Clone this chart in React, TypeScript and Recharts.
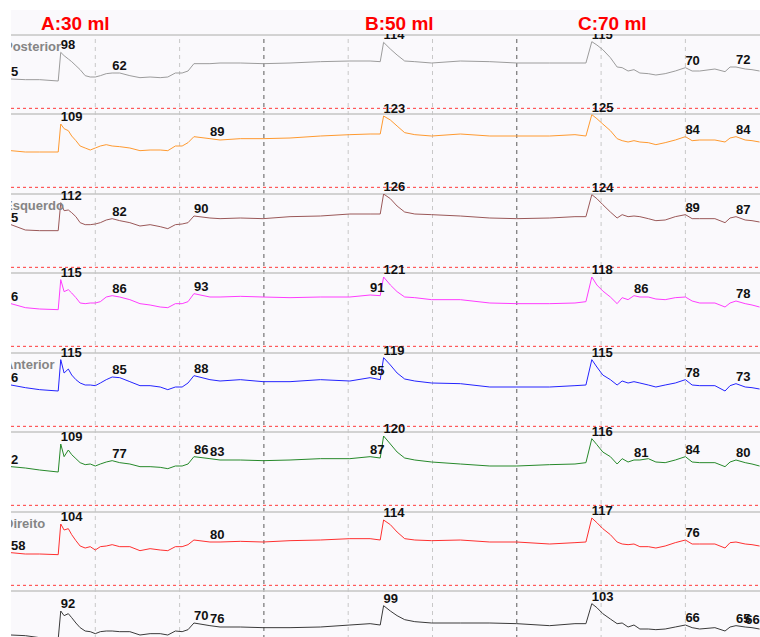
import { LineChart, Line, XAxis, YAxis, ReferenceLine, LabelList } from "recharts";

// time in minutes (one grid line per minute)
const TIME = [
  0, 0.17, 0.34, 0.56, 0.59, 0.63, 0.68, 0.72, 0.77, 0.82,
  0.88, 0.94, 1.0, 1.06, 1.13, 1.2, 1.29, 1.41, 1.53, 1.65,
  1.77, 1.86, 1.95, 2.03, 2.1, 2.17, 2.36, 2.48, 2.72, 2.99,
  3.31, 3.67, 4.02, 4.26, 4.38, 4.42, 4.5, 4.58, 4.67, 4.79,
  4.99, 5.33, 5.68, 6.0, 6.39, 6.69, 6.82, 6.89, 6.95, 7.02,
  7.11, 7.19, 7.25, 7.32, 7.39, 7.46, 7.56, 7.65, 7.76, 7.88,
  8.0, 8.08, 8.17, 8.35, 8.47, 8.53, 8.6, 8.71, 8.79, 8.88,
];

const POSTERIOR = [
  57, 56, 56, 54, 97, 92, 87, 83, 77, 71,
  62, 60, 60, 62, 65, 66, 66, 62, 59, 60,
  59, 60, 66, 66, 69, 80, 80, 81, 81, 80,
  81, 83, 84, 84, 83, 112, 102, 93, 84, 83,
  81, 84, 83, 81, 81, 81, 81, 113, 108, 101,
  89, 75, 74, 69, 71, 66, 65, 63, 65, 69,
  74, 69, 69, 72, 68, 75, 75, 72, 71, 69,
];
const CH2 = [
  70, 68, 68, 68, 110, 103, 100, 92, 85, 77,
  74, 71, 74, 77, 79, 77, 76, 74, 70, 71,
  71, 70, 77, 77, 82, 91, 88, 86, 88, 88,
  89, 92, 94, 95, 95, 122, 116, 107, 97, 94,
  92, 95, 92, 92, 92, 94, 92, 124, 118, 110,
  100, 88, 85, 83, 85, 83, 82, 79, 82, 86,
  91, 85, 86, 86, 83, 89, 91, 86, 85, 83,
];
const ESQUERDO = [
  77, 69, 68, 68, 110, 98, 99, 95, 89, 80,
  77, 77, 78, 80, 84, 86, 83, 80, 75, 77,
  74, 71, 77, 78, 80, 90, 87, 86, 87, 86,
  89, 90, 93, 93, 93, 123, 116, 105, 96, 93,
  92, 90, 87, 86, 87, 89, 89, 122, 116, 107,
  96, 87, 92, 89, 90, 89, 86, 83, 84, 89,
  92, 86, 86, 86, 80, 87, 89, 84, 83, 81,
];
const CH4 = [
  77, 71, 69, 68, 113, 95, 98, 93, 86, 78,
  77, 78, 78, 80, 87, 89, 87, 83, 77, 75,
  72, 71, 77, 77, 80, 92, 87, 87, 88, 87,
  86, 87, 87, 90, 89, 117, 105, 95, 87, 86,
  83, 83, 78, 77, 77, 78, 80, 117, 105, 96,
  87, 77, 86, 83, 89, 87, 87, 84, 83, 86,
  87, 81, 78, 78, 72, 78, 81, 77, 75, 72,
];
const ANTERIOR = [
  75, 71, 68, 66, 113, 93, 99, 90, 83, 78,
  75, 75, 74, 78, 83, 87, 86, 80, 74, 74,
  72, 68, 72, 72, 78, 89, 83, 81, 83, 80,
  80, 83, 81, 86, 83, 116, 105, 93, 84, 81,
  78, 77, 72, 72, 72, 74, 75, 113, 102, 90,
  83, 75, 81, 78, 80, 78, 75, 72, 75, 78,
  83, 75, 74, 74, 66, 74, 77, 72, 71, 69,
];
const CH6 = [
  72, 70, 67, 64, 106, 87, 97, 90, 84, 78,
  75, 76, 73, 76, 79, 81, 78, 76, 72, 72,
  71, 69, 73, 73, 76, 87, 84, 82, 82, 81,
  82, 84, 84, 87, 85, 118, 106, 94, 85, 82,
  79, 76, 73, 73, 75, 76, 78, 114, 105, 94,
  87, 76, 84, 79, 82, 82, 84, 79, 78, 82,
  87, 79, 78, 78, 72, 79, 82, 78, 76, 73,
];
const DIREITO = [
  61, 59, 59, 58, 104, 95, 97, 88, 79, 71,
  68, 70, 65, 70, 71, 73, 70, 70, 64, 67,
  65, 64, 70, 70, 73, 80, 77, 77, 78, 77,
  79, 80, 82, 82, 80, 110, 103, 92, 82, 80,
  79, 80, 77, 77, 74, 76, 77, 113, 106, 97,
  88, 77, 74, 73, 74, 70, 70, 68, 71, 76,
  80, 74, 74, 74, 68, 76, 77, 74, 73, 71,
];
const CH8 = [
  54, 53, 50, 48, 90, 83, 86, 80, 72, 65,
  60, 59, 56, 59, 60, 60, 59, 59, 54, 56,
  56, 54, 60, 59, 62, 72, 68, 66, 66, 65,
  65, 66, 69, 71, 69, 98, 90, 83, 77, 74,
  72, 72, 72, 71, 68, 71, 71, 101, 95, 86,
  78, 71, 72, 66, 69, 63, 63, 62, 63, 66,
  69, 65, 63, 65, 60, 66, 68, 66, 65, 63,
];

// [sample index, printed value]
const POSTERIOR_MARKS: [number, string][] = [[0, "5"], [4, "98"], [15, "62"], [35, "114"], [47, "115"], [60, "70"], [66, "72"]];
const CH2_MARKS: [number, string][] = [[4, "109"], [26, "89"], [35, "123"], [47, "125"], [60, "84"], [66, "84"]];
const ESQUERDO_MARKS: [number, string][] = [[0, "5"], [4, "112"], [15, "82"], [25, "90"], [35, "126"], [47, "124"], [60, "89"], [66, "87"]];
const CH4_MARKS: [number, string][] = [[0, "6"], [4, "115"], [15, "86"], [25, "93"], [33, "91"], [35, "121"], [47, "118"], [54, "86"], [66, "78"]];
const ANTERIOR_MARKS: [number, string][] = [[0, "6"], [4, "115"], [15, "85"], [25, "88"], [33, "85"], [35, "119"], [47, "115"], [60, "78"], [66, "73"]];
const CH6_MARKS: [number, string][] = [[0, "2"], [4, "109"], [15, "77"], [25, "86"], [26, "83"], [33, "87"], [35, "120"], [47, "116"], [54, "81"], [60, "84"], [66, "80"]];
const DIREITO_MARKS: [number, string][] = [[0, "58"], [4, "104"], [26, "80"], [35, "114"], [47, "117"], [60, "76"]];
const CH8_MARKS: [number, string][] = [[4, "92"], [25, "70"], [26, "76"], [35, "99"], [47, "103"], [60, "66"], [66, "65"], [67, "66"]];

const CEILINGS = [123, 125, 123, 123, 123, 124, 122, 120];
const NAMES = ["Posterior", "", "Esquerdo", "", "Anterior", "", "Direito", ""];
const COLORS = ["#9c9c9c", "#ff9a30", "#9a5858", "#ff3cff", "#2424ff", "#26892a", "#ff3030", "#3a3a3a"];

const EVENTS = ["A:30 ml", "B:50 ml", "C:70 ml"];
const GRID_MINOR = [1, 2, 4, 5, 7, 8];
const GRID_MAJOR = [3, 6];

const FONT = "'Liberation Sans', Arial, sans-serif";
const BG = "#faf9fc";
const W = 760;
const PANEL_Y = 35;
const PANEL_STEP = 79.43;
const PAD = 20;

const SERIES = [POSTERIOR, CH2, ESQUERDO, CH4, ANTERIOR, CH6, DIREITO, CH8];
const MARKS = [POSTERIOR_MARKS, CH2_MARKS, ESQUERDO_MARKS, CH4_MARKS, ANTERIOR_MARKS, CH6_MARKS, DIREITO_MARKS, CH8_MARKS];

function Mark(props: any) {
  const { value } = props;
  if (!value) return null;
  const x = props.x ?? props.viewBox?.x;
  const y = props.y ?? props.viewBox?.y;
  return (
    <text x={x} y={y - 3} fontSize={13} fontWeight="bold" fill="#111" fontFamily={FONT}>
      {value}
    </text>
  );
}

function Panel({ i }: { i: number }) {
  const ceil = CEILINGS[i];
  const marks = new Map(MARKS[i]);
  const rows = TIME.map((t, k) => ({ t, v: SERIES[i][k], mark: marks.get(k) }));
  return (
    <div style={{ position: "absolute", left: 0, top: PANEL_Y + i * PANEL_STEP - PAD }}>
      <LineChart width={W} height={80 + PAD} data={rows} margin={{ top: PAD, right: 0, bottom: 0, left: 11 }}>
        <XAxis dataKey="t" type="number" domain={[0, 8.885]} hide allowDataOverflow />
        <YAxis type="number" domain={[ceil - 120, ceil]} hide allowDataOverflow />
        {GRID_MINOR.map((t) => (
          <ReferenceLine key={t} x={t} stroke="#c8c8c8" strokeDasharray="4 4" />
        ))}
        {GRID_MAJOR.map((t) => (
          <ReferenceLine key={t} x={t} stroke="#5a5a5a" strokeDasharray="4 4" />
        ))}
        <ReferenceLine y={ceil} stroke="#c4c4c4" strokeWidth={1.5} />
        <ReferenceLine y={ceil - 110} stroke="#ff3a3a" strokeDasharray="3 3" />
        <Line
          type="linear"
          dataKey="v"
          stroke={COLORS[i]}
          strokeWidth={1}
          dot={false}
          isAnimationActive={false}
        >
          <LabelList dataKey="mark" content={Mark} />
        </Line>
      </LineChart>
    </div>
  );
}

export default function App() {
  return (
    <div style={{ position: "absolute", left: 0, top: 0, width: W, height: 637, overflow: "hidden", background: "#fff" }}>
      <div style={{ position: "absolute", left: 11, top: PANEL_Y, width: W - 11, height: 637 - PANEL_Y, background: BG }} />
      {SERIES.map((_, i) => (
        <Panel key={i} i={i} />
      ))}
      <svg width={W} height={637} style={{ position: "absolute", left: 0, top: 0, pointerEvents: "none" }}>
        {NAMES.map((n, i) =>
          n ? (
            <text key={i} x={4} y={PANEL_Y + i * PANEL_STEP + 16} fontSize={13} fontWeight="bold" fill="#858585" fontFamily={FONT}>
              {n}
            </text>
          ) : null,
        )}
      </svg>
      <div style={{ position: "absolute", left: 0, top: PANEL_Y - 1, width: 11, height: 637, background: "#fff" }} />
      <svg width={W} height={PANEL_Y - 1} style={{ position: "absolute", left: 0, top: 0 }}>
        <rect x={0} y={0} width={W} height={PANEL_Y - 1} fill="#fff" />
        <rect x={11} y={10} width={W - 11} height={PANEL_Y - 11} fill={BG} />
        {EVENTS.map((e, k) => (
          <text key={e} x={[41, 365, 578][k]} y={30} fontSize={19} fontWeight="bold" fill="#ff0000" fontFamily={FONT}>
            {e}
          </text>
        ))}
      </svg>
    </div>
  );
}
